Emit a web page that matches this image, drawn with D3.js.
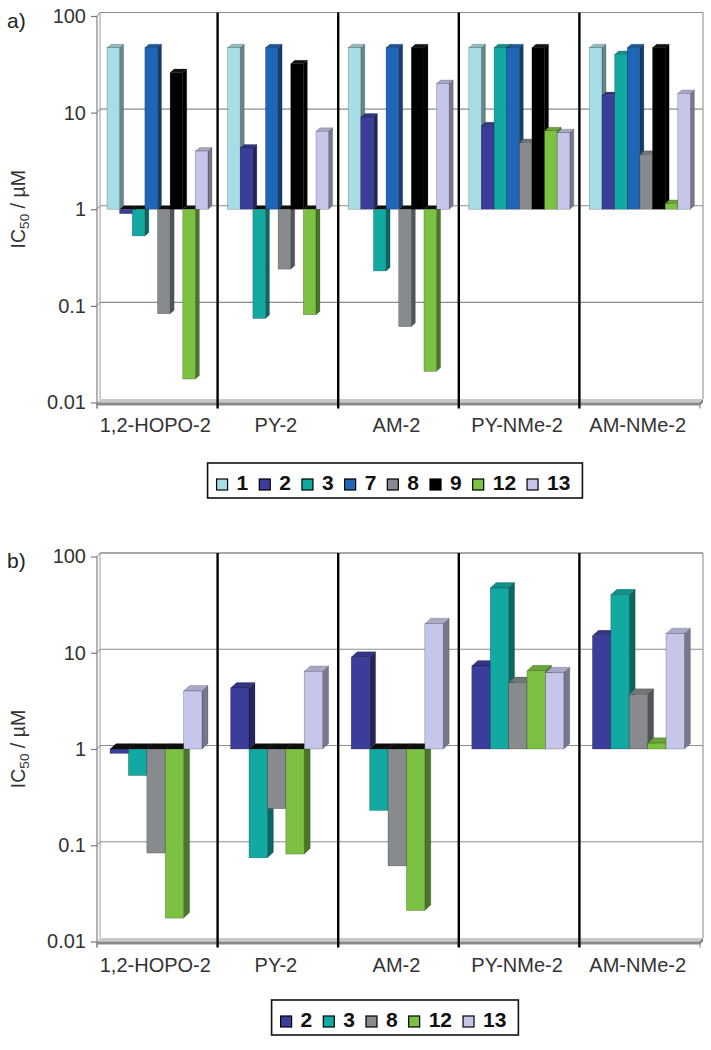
<!DOCTYPE html>
<html><head><meta charset="utf-8">
<script src="https://cdn.jsdelivr.net/npm/d3@7"></script>
<style>
body{margin:0;background:#fff}
svg{display:block}
text{font-family:Arial,"Liberation Sans",sans-serif}
</style>
</head><body>
<svg id="c" width="711" height="1050"></svg>
<script>
// ---------- data ----------
const categories = ["1,2-HOPO-2", "PY-2", "AM-2", "PY-NMe-2", "AM-NMe-2"];
const seriesA = ["1", "2", "3", "7", "8", "9", "12", "13"];
const seriesB = ["2", "3", "8", "12", "13"];
const ic1  = [47, 47, 47, 47, 47];
const ic2  = [0.9, 4.3, 9.0, 7.3, 15];
const ic3  = [0.53, 0.074, 0.23, 47, 40];
const ic7  = [47, 47, 47, 47, 47];
const ic8  = [0.083, 0.24, 0.061, 4.9, 3.7];
const ic9  = [26, 32, 47, 47, 47];
const ic12 = [0.0175, 0.081, 0.021, 6.5, 1.15];
const ic13 = [4.0, 6.4, 20, 6.2, 15.8];
const yTickValues = [0.01, 0.1, 1, 10, 100];
const yTickLabels = ["0.01", "0.1", "1", "10", "100"];

// ---------- styles ----------
const palette = {
  "1": "#a7dde4", "2": "#3b3d9b", "3": "#12a9a2", "7": "#1f66b6",
  "8": "#878b8d", "9": "#000000", "12": "#7cc142", "13": "#c5c6e9"
};
const valuesBySeries = {"1": ic1, "2": ic2, "3": ic3, "7": ic7, "8": ic8, "9": ic9, "12": ic12, "13": ic13};

const svg = d3.select("#c");

function drawPanel(cfg) {
  const g = svg.append("g");
  const L = 97, R = 700, bx = 3, by = 3.5;
  const y = d3.scaleLog().domain([0.01, 100]).range([cfg.y0, cfg.y100]);
  const x = d3.scaleBand().domain(categories).range([L, R]);
  const xs = d3.scaleBand().domain(cfg.series).range(cfg.inner);
  const yTop = y(100) - by;
  const yFloor = y(0.01);

  // back wall gridlines + left wall diagonals
  yTickValues.forEach(t => {
    if (t > 0.01) {
      g.append("line").attr("x1", L + bx).attr("x2", R + bx)
        .attr("y1", y(t) - by).attr("y2", y(t) - by)
        .attr("stroke", "#8c8c8c").attr("stroke-width", 1.1);
      g.append("line").attr("x1", L).attr("y1", y(t)).attr("x2", L + bx).attr("y2", y(t) - by)
        .attr("stroke", "#8c8c8c").attr("stroke-width", 1);
    }
  });
  g.append("line").attr("x1", L + bx).attr("x2", L + bx).attr("y1", yTop).attr("y2", yFloor - by)
    .attr("stroke", "#9a9a9a").attr("stroke-width", 1);
  g.append("line").attr("x1", R + bx).attr("x2", R + bx).attr("y1", yTop).attr("y2", yFloor - by)
    .attr("stroke", "#9a9a9a").attr("stroke-width", 1.2);

  // bars
  const dx = cfg.dx, dy = cfg.dy;
  categories.forEach((cat, i) => {
    cfg.series.forEach(s => {
      const v = valuesBySeries[s][i];
      const c = palette[s];
      const side = s === "9" ? "#000" : d3.color(c).darker(1.4).formatHex();
      const top = s === "9" ? "#111" : d3.color(c).darker(0.45).formatHex();
      const xl = x(cat) + xs(s), w = xs.bandwidth();
      const yb = y(1), yv = y(v);
      const stroke = "rgba(0,0,0,0.35)";
      if (v >= 1) {
        g.append("polygon").attr("points", [[xl + w, yv], [xl + w + dx, yv - dy], [xl + w + dx, yb - dy], [xl + w, yb]].join(" "))
          .attr("fill", side).attr("stroke", stroke).attr("stroke-width", 0.5);
        g.append("polygon").attr("points", [[xl, yv], [xl + dx, yv - dy], [xl + w + dx, yv - dy], [xl + w, yv]].join(" "))
          .attr("fill", top).attr("stroke", stroke).attr("stroke-width", 0.5);
        g.append("rect").attr("x", xl).attr("y", yv).attr("width", w).attr("height", yb - yv)
          .attr("fill", c).attr("stroke", stroke).attr("stroke-width", 0.6);
      } else {
        g.append("polygon").attr("points", [[xl + w, yb], [xl + w + dx, yb - dy], [xl + w + dx, yv - dy], [xl + w, yv]].join(" "))
          .attr("fill", side).attr("stroke", stroke).attr("stroke-width", 0.5);
        g.append("polygon").attr("points", [[xl, yb], [xl + dx, yb - dy], [xl + w + dx, yb - dy], [xl + w, yb]].join(" "))
          .attr("fill", "#0d0d0d");
        g.append("rect").attr("x", xl).attr("y", yb).attr("width", w).attr("height", yv - yb)
          .attr("fill", c).attr("stroke", stroke).attr("stroke-width", 0.6);
      }
    });
  });

  // floor (at 0.01)
  g.append("polygon").attr("points", [[L, yFloor], [L + bx, yFloor - by], [R + bx, yFloor - by], [R, yFloor]].join(" "))
    .attr("fill", "#c9c9c9");
  g.append("rect").attr("x", L).attr("y", yFloor).attr("width", R - L).attr("height", 3)
    .attr("fill", "#8a8a8a");
  g.append("polygon").attr("points", [[R, yFloor], [R + bx, yFloor - by], [R + bx, yFloor - by + 3], [R, yFloor + 3]].join(" "))
    .attr("fill", "#707070");

  g.append("line").attr("x1", L + bx).attr("x2", R + bx).attr("y1", yTop).attr("y2", yTop)
    .attr("stroke", "#8c8c8c").attr("stroke-width", 1.2);

  // category dividers
  categories.forEach((cat, i) => {
    if (i === 0) return;
    const xx = x(cat);
    g.append("line").attr("x1", xx).attr("x2", xx).attr("y1", yTop).attr("y2", yFloor + 6)
      .attr("stroke", "#000").attr("stroke-width", 2.4);
  });
  [L, R].forEach(xx => {
    g.append("line").attr("x1", xx).attr("x2", xx).attr("y1", yFloor).attr("y2", yFloor + 6)
      .attr("stroke", "#8a8a8a").attr("stroke-width", 1.2);
  });

  // y axis
  const yAxis = d3.axisLeft(y).tickValues(yTickValues)
    .tickFormat((d, i) => yTickLabels[i]).tickSize(6).tickSizeOuter(0).tickPadding(5);
  const ga = g.append("g").attr("transform", `translate(${L},0)`).call(yAxis);
  ga.select(".domain").attr("stroke", "#8a8a8a").attr("stroke-width", 1.3)
    .attr("d", `M0,${y(100)}V${yFloor + 6}`);
  ga.selectAll(".tick line").attr("stroke", "#7a7a7a").attr("stroke-width", 1.2);
  ga.selectAll(".tick text").attr("font-size", 20).attr("fill", "#333")
    .attr("font-family", "Arial, 'Liberation Sans', sans-serif");

  // x axis labels
  const xAxis = d3.axisBottom(x).tickSize(0).tickPadding(0);
  const gx = g.append("g").attr("transform", `translate(-2,${cfg.catBase})`).call(xAxis);
  gx.select(".domain").remove();
  gx.selectAll(".tick text").attr("y", 0).attr("dy", 0).attr("font-size", 20)
    .attr("fill", "#333").attr("font-family", "Arial, 'Liberation Sans', sans-serif");

  // y title
  const t = g.append("text").attr("transform", `translate(25,${y(1)}) rotate(-90)`)
    .attr("text-anchor", "middle").attr("font-size", 19.5).attr("fill", "#333");
  t.append("tspan").text("IC");
  t.append("tspan").text("50").attr("font-size", 13.5).attr("dy", 4);
  t.append("tspan").text(" / µM").attr("dy", -4);

  // panel label
  g.append("text").attr("x", 7).attr("y", cfg.labelY).attr("font-size", 21).attr("fill", "#222").text(cfg.label);

  // legend
  const lg = g.append("g");
  const sq = 11, gap1 = 9, gap2 = 11;
  let cx = 0;
  cfg.series.forEach(s => {
    const it = lg.append("g");
    it.append("rect").attr("x", cx).attr("y", -sq).attr("width", sq).attr("height", sq)
      .attr("fill", palette[s]).attr("stroke", "#000").attr("stroke-width", 1.2);
    const tx = it.append("text").attr("x", cx + sq + gap1).attr("y", 0)
      .attr("font-size", 21).attr("font-weight", "bold").attr("fill", "#111").text(s);
    const tw = tx.node().getComputedTextLength();
    cx += sq + gap1 + tw + gap2;
  });
  const contentW = cx - gap2;
  const boxW = contentW + 9 + 12;
  const boxX = 395 - boxW / 2;
  lg.attr("transform", `translate(${boxX + 9},${cfg.legendY + 27})`);
  g.append("rect").attr("x", boxX).attr("y", cfg.legendY).attr("width", boxW).attr("height", 35)
    .attr("fill", "none").attr("stroke", "#111").attr("stroke-width", 1.6);
}

drawPanel({y0: 402.5, y100: 16, series: seriesA, inner: [10, 111], dx: 4, dy: 3.5,
  label: "a)", labelY: 28, catBase: 432, legendY: 463});
drawPanel({y0: 941.5, y100: 556.5, series: seriesB, inner: [13, 105], dx: 6, dy: 5.5,
  label: "b)", labelY: 568, catBase: 972, legendY: 1000});
</script>
</body></html>
